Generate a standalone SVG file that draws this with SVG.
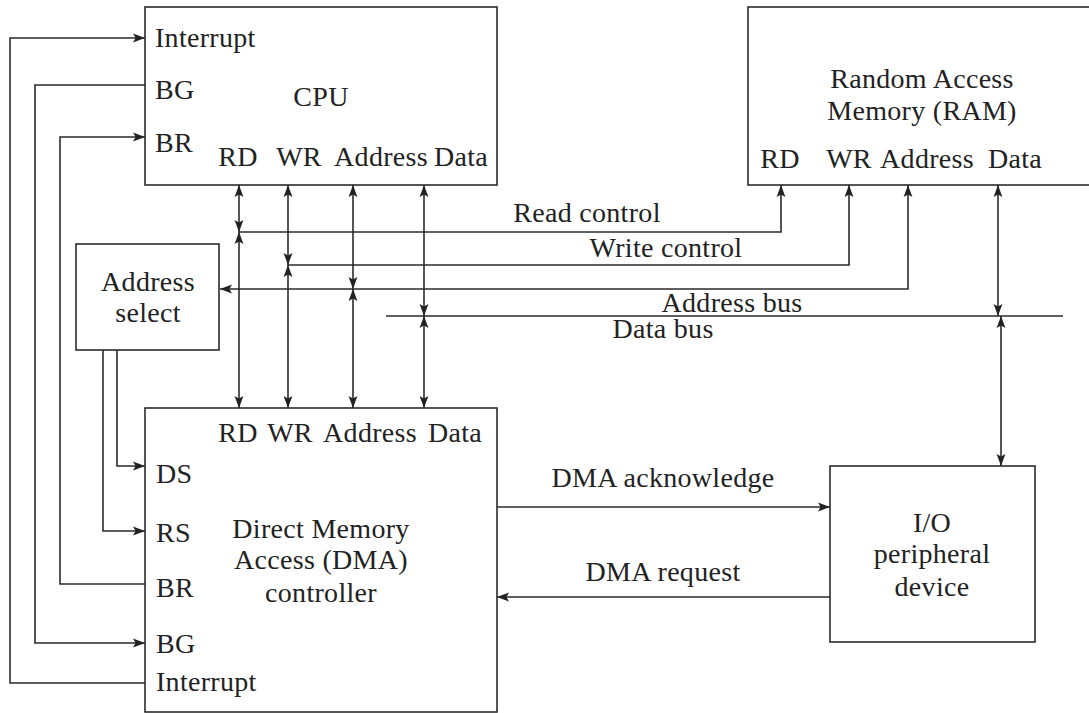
<svg xmlns="http://www.w3.org/2000/svg" width="1089" height="713" viewBox="0 0 1089 713">
  <style>
    .box { fill: #ffffff; stroke: #2b2b2b; stroke-width: 1.6; }
    .wire { fill: none; stroke: #2b2b2b; stroke-width: 1.6; }
    text { font-family: 'Liberation Serif', 'DejaVu Serif', serif; font-size: 28px; fill: #222222; letter-spacing: 0.3px; }
    .mid { text-anchor: middle; }
  </style>
  <defs>
    <marker id="arrow" markerUnits="userSpaceOnUse" markerWidth="12" markerHeight="10" viewBox="0 0 12 10" refX="12" refY="5" orient="auto-start-reverse">
      <path d="M0,0.6 L12,5 L0,9.4 L2.6,5 Z" fill="#222222"/>
    </marker>
  </defs>

  <rect width="1089" height="713" fill="#ffffff"/>

  <!-- connectors -->
  <g id="connectors">
    <!-- interrupt, bus grant and bus request loops on the left -->
    <path class="wire" d="M145,683 H10 V38 H145" marker-end="url(#arrow)"/>
    <path class="wire" d="M145,85 H35 V643 H145" marker-end="url(#arrow)"/>
    <path class="wire" d="M145,584 H60 V137 H145" marker-end="url(#arrow)"/>
    <!-- address select to DMA chip/register select -->
    <path class="wire" d="M117,350 V466 H145" marker-end="url(#arrow)"/>
    <path class="wire" d="M103,350 V531 H145" marker-end="url(#arrow)"/>

    <!-- CPU side taps onto the buses -->
    <path class="wire" d="M239,232 V185" marker-start="url(#arrow)" marker-end="url(#arrow)"/>
    <path class="wire" d="M288,265 V185" marker-start="url(#arrow)" marker-end="url(#arrow)"/>
    <path class="wire" d="M353,289 V185" marker-start="url(#arrow)" marker-end="url(#arrow)"/>
    <path class="wire" d="M424,316 V185" marker-start="url(#arrow)" marker-end="url(#arrow)"/>
    <!-- DMA side taps onto the buses -->
    <path class="wire" d="M239,232 V408" marker-start="url(#arrow)" marker-end="url(#arrow)"/>
    <path class="wire" d="M288,265 V408" marker-start="url(#arrow)" marker-end="url(#arrow)"/>
    <path class="wire" d="M353,289 V408" marker-start="url(#arrow)" marker-end="url(#arrow)"/>
    <path class="wire" d="M424,316 V408" marker-start="url(#arrow)" marker-end="url(#arrow)"/>

    <!-- control and address lines to RAM -->
    <path class="wire" d="M239,232 H781 V185" marker-end="url(#arrow)"/>
    <path class="wire" d="M288,265 H849 V185" marker-end="url(#arrow)"/>
    <path class="wire" d="M220,289 H908 V185" marker-start="url(#arrow)" marker-end="url(#arrow)"/>
    <!-- data bus -->
    <path class="wire" d="M386,316 H1063"/>
    <path class="wire" d="M998,316 V185" marker-start="url(#arrow)" marker-end="url(#arrow)"/>
    <path class="wire" d="M1001,316 V466" marker-start="url(#arrow)" marker-end="url(#arrow)"/>

    <!-- DMA handshake -->
    <path class="wire" d="M497,507 H830" marker-end="url(#arrow)"/>
    <path class="wire" d="M830,597 H497" marker-end="url(#arrow)"/>

    <text class="mid" x="587" y="222">Read control</text>
    <text class="mid" x="666" y="257">Write control</text>
    <text class="mid" x="732" y="312">Address bus</text>
    <text class="mid" x="663" y="338">Data bus</text>
    <text class="mid" x="663" y="487">DMA acknowledge</text>
    <text class="mid" x="663" y="581">DMA request</text>
  </g>

  <g id="cpu">
    <rect class="box" x="145" y="7" width="352" height="178"/>
    <text x="155" y="47">Interrupt</text>
    <text x="155" y="99">BG</text>
    <text x="155" y="152">BR</text>
    <text class="mid" x="321" y="106">CPU</text>
    <text class="mid" x="238" y="166">RD</text>
    <text class="mid" x="299" y="166">WR</text>
    <text class="mid" x="381" y="166">Address</text>
    <text class="mid" x="461" y="166">Data</text>
  </g>

  <g id="ram">
    <rect class="box" x="748" y="7" width="345" height="178"/>
    <text class="mid" x="922" y="88">Random Access</text>
    <text class="mid" x="922" y="120">Memory (RAM)</text>
    <text class="mid" x="780" y="168">RD</text>
    <text class="mid" x="849" y="168">WR</text>
    <text class="mid" x="927" y="168">Address</text>
    <text class="mid" x="1015" y="168">Data</text>
  </g>

  <g id="address-select">
    <rect class="box" x="76" y="244" width="143" height="106"/>
    <text class="mid" x="148" y="291">Address</text>
    <text class="mid" x="148" y="322">select</text>
  </g>

  <g id="dma">
    <rect class="box" x="145" y="408" width="352" height="304"/>
    <text class="mid" x="238" y="442">RD</text>
    <text class="mid" x="290" y="442">WR</text>
    <text class="mid" x="370" y="442">Address</text>
    <text class="mid" x="455" y="442">Data</text>
    <text x="156" y="483">DS</text>
    <text x="156" y="542">RS</text>
    <text x="156" y="597">BR</text>
    <text x="156" y="653">BG</text>
    <text x="156" y="691">Interrupt</text>
    <text class="mid" x="321" y="538">Direct Memory</text>
    <text class="mid" x="321" y="569">Access (DMA)</text>
    <text class="mid" x="321" y="602">controller</text>
  </g>

  <g id="io-device">
    <rect class="box" x="830" y="466" width="205" height="176"/>
    <text class="mid" x="932" y="532">I/O</text>
    <text class="mid" x="932" y="563">peripheral</text>
    <text class="mid" x="932" y="596">device</text>
  </g>
</svg>
